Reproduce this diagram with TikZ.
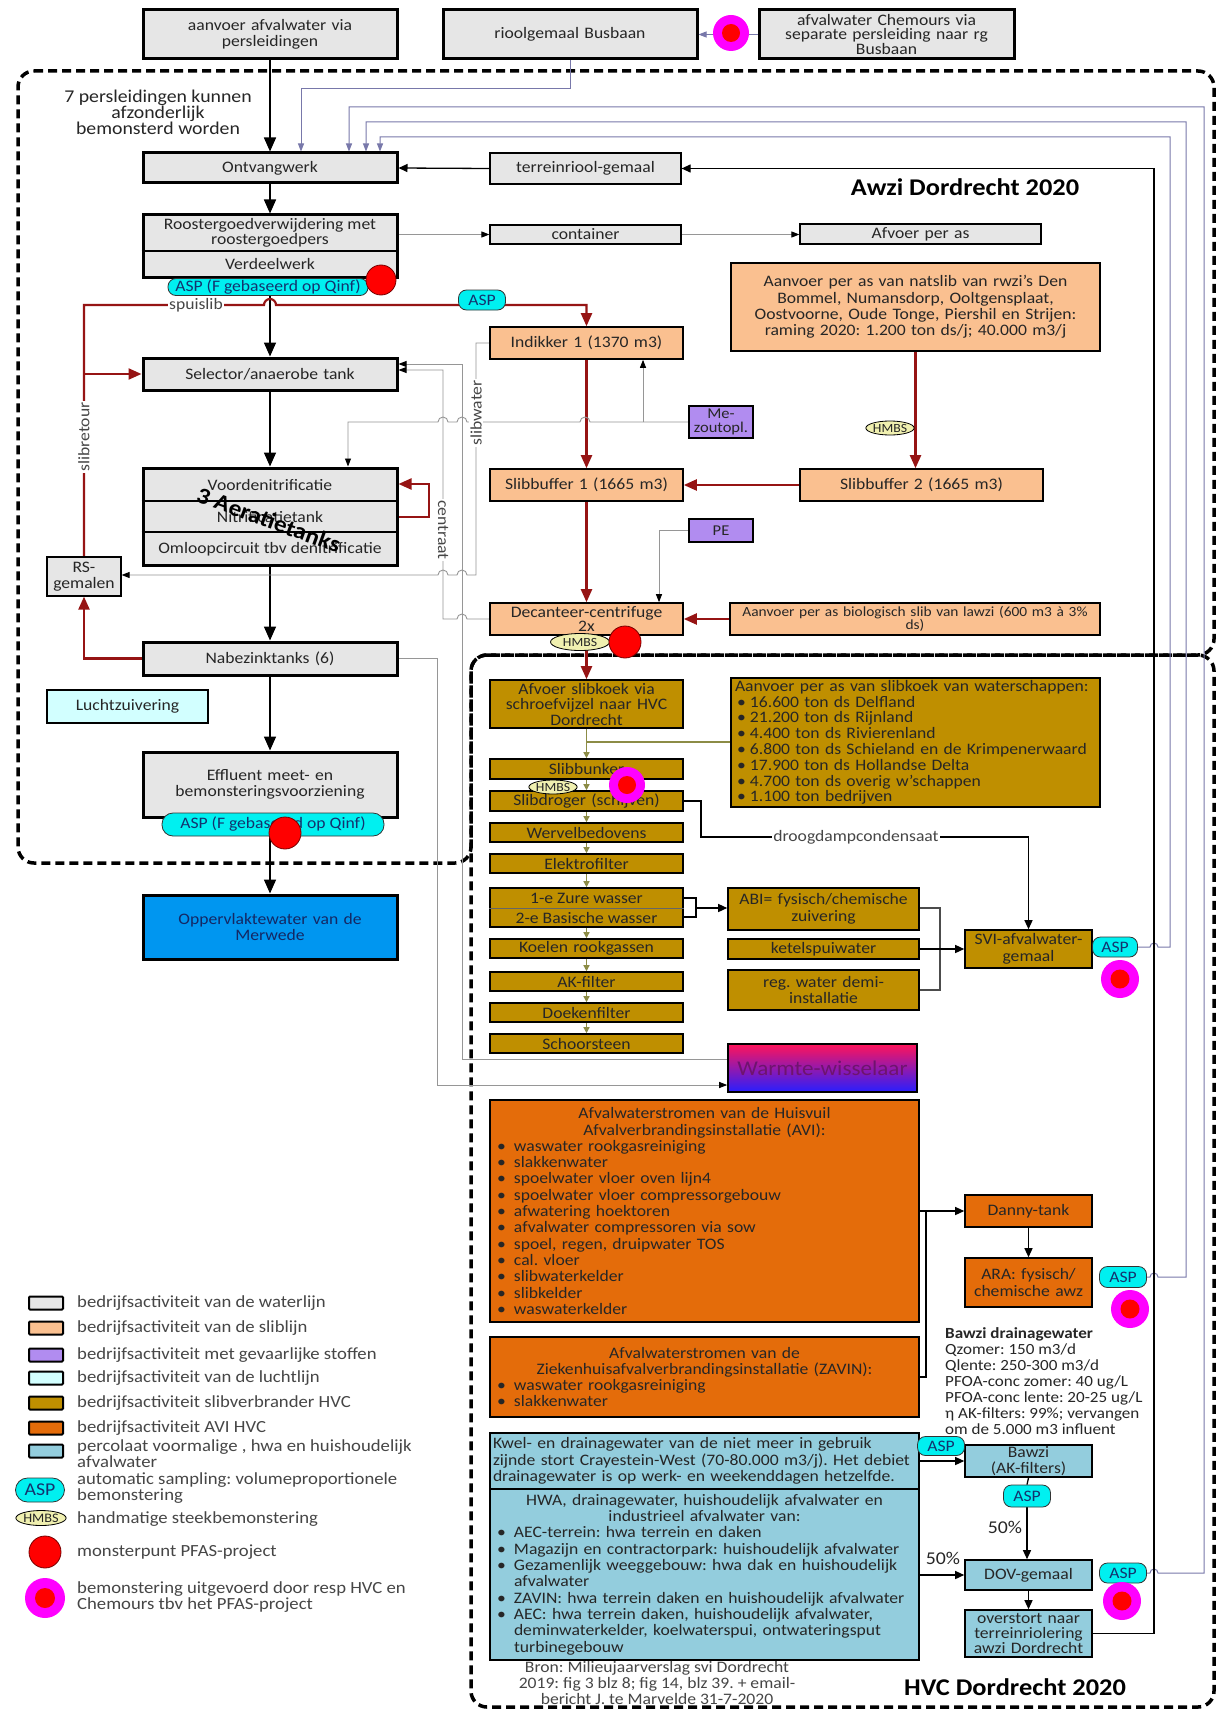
\documentclass[tikz,border=0pt]{standalone}
\usepackage{fontspec}
\setmainfont{Carlito}[FakeStretch=1.1]
\usetikzlibrary{arrows.meta,shapes.geometric}
\pgfdeclarelayer{bg}
\pgfsetlayers{bg,main}
\definecolor{wgray}{RGB}{230,230,230}
\definecolor{slibc}{RGB}{250,192,144}
\definecolor{gevc}{RGB}{177,140,240}
\definecolor{luchtc}{RGB}{210,255,255}
\definecolor{hvcc}{RGB}{191,143,0}
\definecolor{avic}{RGB}{228,108,10}
\definecolor{percc}{RGB}{147,205,221}
\definecolor{aspc}{RGB}{0,240,240}
\definecolor{hmbsc}{RGB}{240,240,176}
\definecolor{redl}{RGB}{150,20,20}
\definecolor{bgl}{RGB}{120,120,170}
\definecolor{olivel}{RGB}{140,140,70}
\definecolor{oppc}{RGB}{0,150,240}
\definecolor{oppt}{RGB}{20,40,100}
\definecolor{pinkc}{RGB}{255,0,255}
\definecolor{txt}{RGB}{38,38,38}
\definecolor{lbltxt}{RGB}{70,70,70}
\definecolor{glc}{RGB}{150,150,150}
\definecolor{darkred}{RGB}{120,0,0}
\definecolor{warmtop}{RGB}{255,20,90}
\definecolor{warmbot}{RGB}{40,30,255}
\definecolor{warmtxt}{RGB}{110,20,110}
\definecolor{asptxt}{RGB}{20,50,110}
\newcommand\fs{\fontsize{16}{16.4}\selectfont}
\newcommand\fsl{\fontsize{17}{16}\selectfont}
\newcommand\fsm{\fontsize{15}{14.5}\selectfont}
\newcommand\itm[1]{\par\noindent\hangindent=20pt\hangafter=1\makebox[20pt][l]{\hspace{3pt}\textbullet}#1}
\newcommand\itmb[1]{\par\noindent\hangindent=15pt\hangafter=1\makebox[15pt][l]{\hspace{2pt}\textbullet}#1}
\newcommand\mybox[7]{%
 \pgfmathsetmacro\bw{#5-#3}%
 \pgfmathsetmacro\bh{#6-#4}%
 \pgfmathsetmacro\bcx{(#3+#5)/2}%
 \pgfmathsetmacro\bcy{(#4+#6)/2}%
 \pgfmathsetmacro\btw{#5-#3-6}%
 \node[#1, minimum width=\bw pt, minimum height=\bh pt, text width=\btw pt] (#2) at (\bcx,\bcy) {#7};}
\tikzset{
 base/.style={draw=black, text=txt, align=center, inner sep=1pt, font=\fs},
 wthick/.style={base, fill=wgray, line width=3pt},
 wthin/.style={base, fill=wgray, line width=1.2pt},
 slib/.style={base, fill=slibc, line width=1.6pt},
 gev/.style={base, fill=gevc, line width=1.6pt, font=\fsm},
 lucht/.style={base, fill=luchtc, line width=1.6pt},
 hvc/.style={base, fill=hvcc, line width=1.6pt},
 avi/.style={base, fill=avic, line width=1.6pt},
 perc/.style={base, fill=percc, line width=1.6pt},
 opp/.style={base, fill=oppc, line width=3pt, text=oppt},
 warm/.style={base, top color=warmtop, bottom color=warmbot, line width=1.6pt, text=warmtxt, font=\fontsize{21}{22}\selectfont},
 asp/.style={draw=black!80, fill=aspc, rounded corners=8pt, line width=.8pt, text=asptxt, inner sep=0pt, font=\fontsize{16}{16}\selectfont},
 hmbs/.style={ellipse, draw=black, fill=hmbsc, line width=.8pt, inner sep=0pt, font=\fontsize{12.5}{12.5}\selectfont, text=txt},
 redpt/.style={circle, fill=red, draw=darkred, line width=.8pt, inner sep=0pt, minimum size=32pt},
 pinkpt/.style={circle, fill=pinkc, inner sep=0pt, minimum size=38pt},
 pinkin/.style={circle, fill=red, inner sep=0pt, minimum size=19pt},
 lbl/.style={fill=white, inner sep=1pt, text=lbltxt, font=\fs},
 dashb/.style={line width=3.5pt, dash pattern=on 9pt off 5pt, rounded corners=16pt},
 flow/.style={line width=1.6pt, -{Triangle[length=14pt,width=12pt]}},
 sflow/.style={line width=2.2pt, draw=redl, -{Triangle[length=13pt,width=11pt]}},
 gl/.style={line width=0.9pt, draw=glc, -{Triangle[length=8pt,width=6pt,color=black]}},
 bgln/.style={line width=1pt, draw=bgl, -{Triangle[length=8pt,width=6pt]}},
 ol/.style={line width=1.3pt, draw=olivel, -{Triangle[length=6pt,width=6pt]}},
 bln/.style={line width=1.3pt, draw=black, -{Triangle[length=9pt,width=8pt]}},
 legsw/.style={draw=black, line width=2pt, minimum width=34pt, minimum height=13pt, inner sep=0pt, rounded corners=1pt},
 legt/.style={anchor=west, text=lbltxt, font=\fsl, align=left, inner sep=0pt},
}
\begin{document}
\frenchspacing
\begin{tikzpicture}[x=1pt,y=-1pt]
\useasboundingbox (0,0) rectangle (1221,1712);
% ---------------- boxes: waterlijn ----------------
\mybox{wthick}{aanvoer}{143}{10}{397}{59}{aanvoer afvalwater via\\persleidingen}
\mybox{wthick}{riool}{443}{10}{697}{59}{rioolgemaal Busbaan}
\mybox{wthick,font=\fontsize{16}{14.8}\selectfont}{chem}{759}{10}{1014}{59}{afvalwater Chemours via\\separate persleiding naar rg\\Busbaan}
\node[align=center, text=txt, font=\fontsize{18}{16}\selectfont] (note7) at (158,112) {7 persleidingen kunnen\\afzonderlijk\\bemonsterd worden};
\mybox{wthick}{ont}{143}{153}{397}{183}{Ontvangwerk}
\mybox{wthin}{terr}{490}{153}{681}{184}{terreinriool-gemaal}
\node[font=\fontsize{24}{24}\selectfont\bfseries, text=black] (awzit) at (965,187) {Awzi Dordrecht 2020};
\mybox{wthick}{roost}{143}{215}{397}{277}{}
\draw[line width=1.2pt] (roost.west |- 0,251) -- (roost.east |- 0,251);
\node[align=center, text=txt, font=\fontsize{16}{15}\selectfont] (roostA) at (270,233) {Roostergoedverwijdering met\\roostergoedpers};
\node[text=txt, font=\fs] (roostB) at (270,264) {Verdeelwerk};
\mybox{wthin}{cont}{490}{225}{681}{244}{container}
\mybox{wthin}{afv}{800}{224}{1041}{244}{Afvoer per as}
\mybox{slib}{nat}{731}{263}{1100}{351}{Aanvoer per as van natslib van rwzi's Den\\Bommel, Numansdorp, Ooltgensplaat,\\Oostvoorne, Oude Tonge, Piershil en Strijen:\\raming 2020: 1.200 ton ds/j; 40.000 m3/j}
\mybox{slib}{ind}{490}{327}{683}{359}{Indikker 1 (1370 m3)}
\mybox{wthick}{sel}{143}{358}{397}{390}{Selector/anaerobe tank}
\mybox{gev}{mez}{689}{406}{753}{438}{Me-\\zoutopl.}
\mybox{wthick}{aer}{143}{468}{397}{565}{}
\draw[line width=1.2pt] (aer.west |- 0,501) -- (aer.east |- 0,501);
\draw[line width=1.2pt] (aer.west |- 0,532) -- (aer.east |- 0,532);
\node[text=txt, font=\fs] (aerA) at (270,485) {Voordenitrificatie};
\node[text=txt, font=\fs] (aerB) at (270,517) {Nitrificatietank};
\node[text=txt, font=\fs] (aerC) at (270,549) {Omloopcircuit tbv denitrificatie};
\node[rotate=-20, font=\fontsize{23}{23}\selectfont\bfseries, text=black] (aert) at (269,520) {3 Aeratietanks};
\mybox{slib}{sb1}{490}{469}{683}{501}{Slibbuffer 1 (1665 m3)}
\mybox{slib}{sb2}{800}{469}{1043}{501}{Slibbuffer 2 (1665 m3)}
\mybox{gev}{pe}{689}{519}{753}{542}{PE}
\mybox{wthin}{rs}{47}{557}{121}{596}{RS-\\gemalen}
\mybox{slib,font=\fontsize{16}{13}\selectfont}{dec}{490}{603}{683}{635}{Decanteer-centrifuge\\2x}
\mybox{slib,font=\fontsize{14}{13.5}\selectfont}{bio}{730}{603}{1100}{635}{Aanvoer per as biologisch slib van lawzi (600 m3 à 3\%\\ds)}
\mybox{wthick}{nab}{143}{642}{397}{675}{Nabezinktanks (6)}
\mybox{lucht}{lucht}{47}{690}{208}{723}{Luchtzuivering}
\mybox{wthick}{eff}{143}{752}{397}{817}{Effluent meet- en\\bemonsteringsvoorziening}
\mybox{opp}{opp}{143}{895}{397}{959}{Oppervlaktewater van de\\Merwede}
% ---------------- HVC ----------------
\mybox{hvc,font=\fontsize{16}{15.5}\selectfont}{afs}{490}{680}{683}{728}{Afvoer slibkoek via\\schroefvijzel naar HVC\\Dordrecht}
\mybox{hvc}{aas}{731}{678}{1100}{807}{\begin{minipage}{361pt}\fontsize{16}{15.8}\selectfont\raggedright Aanvoer per as van slibkoek van waterschappen:\itmb{16.600 ton ds Delfland}\itmb{21.200 ton ds Rijnland}\itmb{4.400 ton ds Rivierenland}\itmb{6.800 ton ds Schieland en de Krimpenerwaard}\itmb{17.900 ton ds Hollandse Delta}\itmb{4.700 ton ds overig w'schappen}\itmb{1.100 ton bedrijven}\par\end{minipage}}
\mybox{hvc}{bunk}{490}{759}{683}{779}{Slibbunker}
\mybox{hvc}{dro}{490}{791}{683}{811}{Slibdroger (schijven)}
\mybox{hvc}{wer}{490}{823}{683}{842}{Wervelbedovens}
\mybox{hvc}{ele}{490}{854}{683}{873}{Elektrofilter}
\mybox{hvc}{was}{490}{888}{683}{927}{}
\draw[line width=1pt, draw=black!60] (was.west |- 0,908) -- (was.east |- 0,908);
\node[text=txt, font=\fs] (wasA) at (586.5,898) {1-e Zure wasser};
\node[text=txt, font=\fs] (wasB) at (586.5,918) {2-e Basische wasser};
\mybox{hvc}{koe}{490}{939}{683}{958}{Koelen rookgassen}
\mybox{hvc}{ak}{490}{972}{683}{991}{AK-filter}
\mybox{hvc}{doe}{490}{1003}{683}{1022}{Doekenfilter}
\mybox{hvc}{sch}{490}{1034}{683}{1053}{Schoorsteen}
\mybox{hvc}{abi}{728}{888}{919}{930}{ABI= fysisch/chemische\\zuivering}
\mybox{hvc}{ket}{728}{939}{919}{959}{ketelspuiwater}
\mybox{hvc}{demi}{728}{970}{919}{1010}{reg. water demi-\\installatie}
\mybox{hvc}{svi}{965}{930}{1092}{968}{SVI-afvalwater-\\gemaal}
\mybox{warm}{warm}{728}{1044}{917}{1092}{Warmte-wisselaar}
\mybox{avi}{avi}{490}{1100}{919}{1322}{\begin{minipage}{421pt}\fontsize{16}{16.3}\selectfont\centering Afvalwaterstromen van de Huisvuil\\Afvalverbrandingsinstallatie (AVI):\par\raggedright\itm{waswater rookgasreiniging}\itm{slakkenwater}\itm{spoelwater vloer oven lijn4}\itm{spoelwater vloer compressorgebouw}\itm{afwatering hoektoren}\itm{afvalwater compressoren via sow}\itm{spoel, regen, druipwater TOS}\itm{cal. vloer}\itm{slibwaterkelder}\itm{slibkelder}\itm{waswaterkelder}\par\end{minipage}}
\mybox{avi}{zav}{490}{1337}{919}{1417}{\begin{minipage}{421pt}\fontsize{16}{16.3}\selectfont\centering Afvalwaterstromen van de\\Ziekenhuisafvalverbrandingsinstallatie (ZAVIN):\par\raggedright\itm{waswater rookgasreiniging}\itm{slakkenwater}\par\end{minipage}}
\mybox{avi}{dan}{965}{1195}{1092}{1227}{Danny-tank}
\mybox{avi}{ara}{965}{1258}{1092}{1307}{ARA: fysisch/\\chemische awz}
\node[anchor=north west, align=left, inner sep=0pt, font=\fontsize{15.5}{16}\selectfont, text=txt] (bawtxt) at (945,1327) {\textbf{Bawzi drainagewater}\\Qzomer: 150 m3/d\\Qlente: 250-300 m3/d\\PFOA-conc zomer: 40 ug/L\\PFOA-conc lente: 20-25 ug/L\\η AK-filters: 99\%; vervangen\\om de 5.000 m3 influent};
\mybox{perc}{kwel}{490}{1433}{919}{1489}{\begin{minipage}{423pt}\fontsize{16}{16.3}\selectfont\raggedright Kwel- en drainagewater van de niet meer in gebruik\\zijnde stort Crayestein-West (70-80.000 m3/j). Het debiet\\drainagewater is op werk- en weekenddagen hetzelfde.\par\end{minipage}}
\mybox{perc}{hwa}{490}{1489}{919}{1660}{\begin{minipage}{421pt}\fontsize{16}{16.3}\selectfont\centering HWA, drainagewater, huishoudelijk afvalwater en\\industrieel afvalwater van:\par\raggedright\itm{AEC-terrein: hwa terrein en daken}\itm{Magazijn en contractorpark: huishoudelijk afvalwater}\itm{Gezamenlijk weeggebouw: hwa dak en huishoudelijk\newline afvalwater}\itm{ZAVIN: hwa terrein daken en huishoudelijk afvalwater}\itm{AEC: hwa terrein daken, huishoudelijk afvalwater,\newline deminwaterkelder, koelwaterspui, ontwateringsput\newline turbinegebouw}\par\end{minipage}}
\mybox{perc}{baw}{965}{1445}{1092}{1477}{Bawzi\\(AK-filters)}
\mybox{perc}{dov}{965}{1560}{1092}{1590}{DOV-gemaal}
\mybox{perc,font=\fontsize{16}{14.6}\selectfont}{ovs}{965}{1610}{1092}{1657}{overstort naar\\terreinriolering\\awzi Dordrecht}
\node[align=center, text=lbltxt, font=\fs] (bron) at (657,1683) {Bron: Milieujaarverslag svi Dordrecht\\2019: fig 3 blz 8; fig 14, blz 39. + email-\\bericht J. te Marvelde 31-7-2020};
\node[font=\fontsize{24}{24}\selectfont\bfseries, text=black] (hvct) at (1015,1687) {HVC Dordrecht 2020};
\node[font=\fontsize{18}{18}\selectfont, text=txt] (pct1) at (1005,1527) {50\%};
\node[font=\fontsize{18}{18}\selectfont, text=txt] (pct2) at (943,1558) {50\%};
% ---------------- sampling markers ----------------
\node[asp, minimum width=200pt, minimum height=17pt] (asp1) at (268,287) {ASP (F gebaseerd op Qinf)};
\node[redpt, minimum size=30pt] (r1) at (381,280) {};
\node[asp, minimum width=47pt, minimum height=20pt] (asp2) at (482,300) {ASP};
\node[hmbs, minimum width=45pt, minimum height=14pt] (h1) at (890,428) {HMBS};
\node[hmbs, minimum width=59pt, minimum height=17pt] (h2) at (580,642) {HMBS};
\node[redpt] (r2) at (625,642) {};
\node[asp, minimum width=222pt, minimum height=23pt, rounded corners=11pt] (asp3) at (273,824.5) {ASP (F gebaseerd op Qinf)};
\node[redpt] (r3) at (285,833) {};
\node[pinkpt, minimum size=36pt] (p0) at (731,33) {};
\node[pinkin, minimum size=18pt] (p0c) at (731,33) {};
\node[hmbs, minimum width=47pt, minimum height=14pt] (h3) at (553,787) {HMBS};
\node[pinkpt, minimum size=36pt] (p1) at (627,785) {};
\node[pinkin, minimum size=18pt] (p1c) at (627,785) {};
\node[asp, minimum width=45pt, minimum height=20pt] (asp4) at (1115,947) {ASP};
\node[pinkpt] (p2) at (1120,979) {};
\node[pinkin] (p2c) at (1120,979) {};
\node[asp, minimum width=47pt, minimum height=21pt] (asp5) at (1123,1277) {ASP};
\node[pinkpt] (p3) at (1130,1309) {};
\node[pinkin] (p3c) at (1130,1309) {};
\node[asp, minimum width=47pt, minimum height=19pt] (asp6) at (941,1446) {ASP};
\node[asp, minimum width=47pt, minimum height=22pt] (asp7) at (1027,1496) {ASP};
\node[asp, minimum width=47pt, minimum height=20pt] (asp8) at (1123,1573) {ASP};
\node[pinkpt] (p4) at (1122,1601) {};
\node[pinkin] (p4c) at (1122,1601) {};
% ---------------- line labels ----------------
\node[lbl] (lspui) at (196,305) {spuislib};
\node[lbl, rotate=90] (lretour) at (84,437) {slibretour};
\node[lbl, rotate=90] (lwater) at (476,413) {slibwater};
\node[lbl, rotate=-90] (lcentr) at (443,530) {centraat};
\node[lbl] (ldroog) at (856,837) {droogdampcondensaat};
% ---------------- legend ----------------
\node[legsw, fill=wgray] (lg1) at (46,1303) {};
\node[legt] (lt1) at (77,1303) {bedrijfsactiviteit van de waterlijn};
\node[legsw, fill=slibc] (lg2) at (46,1328) {};
\node[legt] (lt2) at (77,1328) {bedrijfsactiviteit van de sliblijn};
\node[legsw, fill=gevc] (lg3) at (46,1355) {};
\node[legt] (lt3) at (77,1355) {bedrijfsactiviteit met gevaarlijke stoffen};
\node[legsw, fill=luchtc] (lg4) at (46,1378) {};
\node[legt] (lt4) at (77,1378) {bedrijfsactiviteit van de luchtlijn};
\node[legsw, fill=hvcc] (lg5) at (46,1403) {};
\node[legt] (lt5) at (77,1403) {bedrijfsactiviteit slibverbrander HVC};
\node[legsw, fill=avic] (lg6) at (46,1428) {};
\node[legt] (lt6) at (77,1428) {bedrijfsactiviteit AVI HVC};
\node[legsw, fill=percc] (lg7) at (46,1451) {};
\node[legt] (lt7) at (77,1454) {percolaat voormalige , hwa en huishoudelijk\\afvalwater};
\node[asp, minimum width=49pt, minimum height=24pt, rounded corners=12pt, font=\fontsize{18}{18}\selectfont] (lgasp) at (40,1490) {ASP};
\node[legt] (lt8) at (77,1488) {automatic sampling: volumeproportionele\\bemonstering};
\node[hmbs, minimum width=48pt, minimum height=15pt, font=\fontsize{13}{13}\selectfont] (lghm) at (41,1518) {HMBS};
\node[legt] (lt9) at (77,1519) {handmatige steekbemonstering};
\node[redpt] (lgred) at (45,1552) {};
\node[legt] (lt10) at (77,1552) {monsterpunt PFAS-project};
\node[pinkpt, minimum size=40pt] (lgpink) at (45,1598) {};
\node[pinkin, minimum size=20pt] (lgpinkc) at (45,1598) {};
\node[legt] (lt11) at (77,1597) {bemonstering uitgevoerd door resp HVC en\\Chemours tbv het PFAS-project};
% ---------------- connectors (background layer) ----------------
\begin{pgfonlayer}{bg}
\fill[white] (0,0) rectangle (1221,1712);
\draw[dashb] (18,71) -- (1214,71) -- (1214,655) -- (471,655) -- (471,863) -- (18,863) -- cycle;
\draw[dashb] (471,655) -- (1214,655) -- (1214,1707) -- (471,1707) -- cycle;
% blue-grey sampling returns
\draw[bgln] (chem.west) -- (riool.east);
\draw[bgln] (riool.south) -- (570,89) -- (301,89) -- (301,0 |- ont.north);
\draw[bgln] (asp8.east) -- (1150,1573) arc[start angle=180,end angle=360,radius=4] -- (1204,1573) -- (1204,107) -- (349,107) -- (349,0 |- ont.north);
\draw[bgln] (asp5.east) -- (1150,1277) arc[start angle=180,end angle=360,radius=4] -- (1186,1277) -- (1186,122) -- (366,122) -- (366,0 |- ont.north);
\draw[bgln] (asp4.east) -- (1150,947) arc[start angle=180,end angle=360,radius=4] -- (1170,947) -- (1170,137) -- (380,137) -- (380,0 |- ont.north);
\draw[bln, line width=1.1pt] (ovs.east) -- (1154,0 |- ovs.east) -- (1154,0 |- terr.east) -- (terr.east);
% main water flow
\draw[flow] (aanvoer.south) -- (ont.north);
\draw[flow] (ont.south) -- (roost.north);
\draw[flow] (roost.south) -- (sel.north);
\draw[flow] (sel.south) -- (aer.north);
\draw[flow] (aer.south) -- (nab.north);
\draw[flow] (nab.south) -- (eff.north);
\draw[flow] (eff.south) -- (opp.north);
\draw[bln] (terr.west) -- (ont.east);
\draw[gl] (roost.east |- cont.west) -- (cont.west);
\draw[gl] (cont.east) -- (afv.west |- cont.east);
% sludge line
\draw[sflow] (rs.north) -- (84,305) -- (264,305) arc[start angle=180,end angle=360,radius=6] -- (ind.north |- 0,305) -- (ind.north);
\draw[sflow] (84,0 |- sel.west) -- (sel.west);
\draw[sflow] (nab.west) -| (rs.south);
\draw[sflow] (ind.south) -- (sb1.north);
\draw[sflow] (sb2.west) -- (sb1.east);
\draw[sflow] (nat.south) -- (nat.south |- sb2.north);
\draw[sflow] (sb1.south) -- (dec.north);
\draw[sflow] (bio.west) -- (dec.east);
\draw[sflow] (dec.south) -- (afs.north);
\draw[sflow] (aer.east |- 0,517) -- (429,517) -- (429,484) -- (aer.east |- 0,484);
% grey return lines
\draw[gl] (warm.west |- 0,1059) -- (462,1059) -- (462,364) -- (sel.east |- 0,364);
\draw[gl] (dec.west) -- (467,619) arc[start angle=0,end angle=-180,radius=5] -- (443,619) -- (443,370) -- (sel.east |- 0,370);
\draw[gl] (ind.west) -- (476,0 |- ind.west) -- (476,575) -- (467,575) arc[start angle=0,end angle=-180,radius=5] -- (448,575) arc[start angle=0,end angle=-180,radius=5] -- (rs.east |- 0,575);
\draw[gl] (mez.west) -- (590,422) arc[start angle=0,end angle=-180,radius=5] -- (481,422) arc[start angle=0,end angle=-180,radius=5] -- (467,422) arc[start angle=0,end angle=-180,radius=5] -- (448,422) arc[start angle=0,end angle=-180,radius=5] -- (348,422) -- (348,0 |- aer.north);
\draw[gl] (643,422) -- (643,0 |- ind.south);
\draw[gl] (pe.west) -| (659,0 |- dec.north);
\draw[gl] (nab.east) -- (437,0 |- nab.east) -- (437,1085) -- (warm.west |- 0,1085);
% HVC sludge incinerator chain
\draw[ol] (afs.south) -- (bunk.north);
\draw[ol,-] (aas.west |- 0,742) -- (afs.south |- 0,742);
\draw[ol] (bunk.south) -- (dro.north);
\draw[ol] (dro.south) -- (wer.north);
\draw[ol] (wer.south) -- (ele.north);
\draw[ol] (ele.south) -- (was.north);
\draw[ol] (was.south) -- (koe.north);
\draw[ol] (koe.south) -- (ak.north);
\draw[ol] (ak.south) -- (doe.north);
\draw[ol] (doe.south) -- (sch.north);
% HVC waste water
\draw[bln] (dro.east) -- (701,0 |- dro.east) -- (701,837) -- (svi.north |- 0,837) -- (svi.north);
\draw[bln,-] (was.east |- 0,898) -- (696,898) -- (696,917) -- (was.east |- 0,917);
\draw[bln] (696,908) -- (abi.west |- 0,908);
\draw[bln,-,draw=black!70] (abi.east |- 0,908) -- (940,908) -- (940,0 |- demi.east) -- (demi.east);
\draw[bln] (ket.east) -- (svi.west |- ket.east);
\draw[bln] (avi.east |- dan.west) -- (dan.west);
\draw[bln,-] (926,0 |- dan.west) -- (926,0 |- zav.east) -- (zav.east);
\draw[bln] (dan.south) -- (ara.north);
\draw[bln] (kwel.east) -- (baw.west);
\draw[bln,-] (baw.south) -- (asp7.north);
\draw[bln] (asp7.south) -- (asp7.south |- dov.north);
\draw[bln] (hwa.east |- dov.west) -- (dov.west);
\draw[bln] (dov.south) -- (ovs.north);
\end{pgfonlayer}
\end{tikzpicture}
\end{document}
